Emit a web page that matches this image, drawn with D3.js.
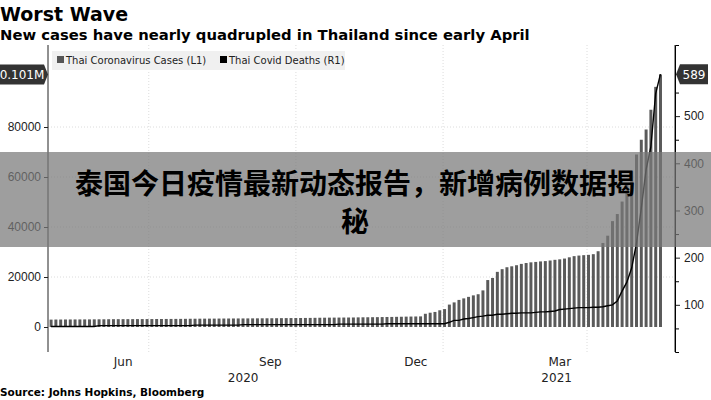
<!DOCTYPE html>
<html><head><meta charset="utf-8">
<script src="https://cdn.jsdelivr.net/npm/d3@7"></script>
<style>body{margin:0;background:#fff}svg{font-family:"DejaVu Sans",sans-serif}</style>
</head><body><svg id="c" width="711" height="400"></svg>
<script>
const startDate = "2020-04-30";
const stepDays = 3;
const cases = [2954,2987,2989,3009,3017,3025,3034,3040,3045,3065,3081,3084,3112,3125,3135,3141,3146,3156,3162,3169,3173,3180,3195,3202,3217,3227,3239,3250,3269,3298,3311,3328,3345,3351,3359,3378,3390,3402,3411,3423,3427,3445,3454,3470,3480,3490,3500,3519,3540,3559,3575,3590,3600,3620,3636,3669,3700,3720,3746,3759,3772,3787,3797,3810,3852,3880,3899,3920,3941,3977,4008,4027,4070,4100,4150,4180,4210,4246,
5289,5716,6020,6690,7163,8966,9841,10834,11450,12054,12653,13104,14646,18782,19618,22058,23134,23903,24279,24714,25241,25592,25865,26031,26234,26363,26598,26873,27071,27377,27873,28346,28577,28734,28863,29127,30310,33610,36522,42352,45185,50183,57508,62300,69000,74900,79000,86900,96050,101000];
const deaths = [54,54,54,54,54,54,54,54,54,54,56,56,56,56,56,56,56,56,56,56,56,56,56,56,56,56,56,56,56,56,57,57,57,57,57,57,57,57,57,57,58,58,58,58,58,58,58,58,58,58,58,58,58,58,58,58,58,58,58,58,59,59,59,59,59,59,59,59,59,59,60,60,60,60,60,60,60,60,
60,60,60,60,60,63,67,67,70,71,73,75,76,78,78,80,80,81,82,82,83,83,83,84,85,85,86,87,90,91,92,93,94,94,94,95,95,96,98,100,108,129,148,178,230,304,386,435,548,589];
const leftTicks = [0,20000,40000,60000,80000];
const rightTicks = [100,200,300,400,500];
const monthLabels = [["2020-06-15","Jun"],["2020-09-15","Sep"],["2020-12-15","Dec"],["2021-03-15","Mar"]];
const yearLabels = [["2020-08-29","2020"],["2021-03-13","2021"]];
const gridDates = ["2020-07-01","2020-10-01","2021-01-01","2021-04-01"];

const svg = d3.select("#c");
const L=48,R=675,T=45,B=352;
const d0 = new Date(startDate);
const dates = cases.map((_,i)=>d3.timeDay.offset(d0,i*stepDays));
const x = d3.scaleTime().domain([new Date("2020-04-29"),new Date("2021-05-26")]).range([L,R]);
const yL = d3.scaleLinear().domain([-10000,112800]).range([B,T]);
const yR = d3.scaleLinear().domain([0,650.8]).range([B,T]);
const g = "#dcdcdc";
svg.selectAll(".hg").data(leftTicks.slice(1)).join("line").attr("x1",L).attr("x2",R)
 .attr("y1",d=>yL(d)).attr("y2",d=>yL(d)).attr("stroke",g).attr("stroke-dasharray","1,2");
svg.selectAll(".vg").data(gridDates).join("line").attr("y1",T).attr("y2",B)
 .attr("x1",d=>x(new Date(d))).attr("x2",d=>x(new Date(d))).attr("stroke",g).attr("stroke-dasharray","1,2");
const bw = x(d3.timeDay.offset(d0,stepDays))-x(d0);
svg.selectAll(".b").data(cases).join("rect").attr("x",(d,i)=>x(dates[i])).attr("width",bw*0.62)
 .attr("y",d=>yL(d)).attr("height",d=>yL(0)-yL(d)).attr("fill","#5a5a5a");
svg.append("path").datum(deaths).attr("fill","none").attr("stroke","#000").attr("stroke-width",1.4)
 .attr("d",d3.line().x((d,i)=>x(dates[i])+bw*0.3).y(d=>yR(d)));
const la = svg.append("g").attr("transform",`translate(${L},0)`).call(d3.axisLeft(yL).tickValues(leftTicks).tickSize(4).tickPadding(3).tickFormat(d3.format("d")));
const ra = svg.append("g").attr("transform",`translate(${R},0)`).call(d3.axisRight(yR).tickValues(rightTicks).tickSize(5).tickPadding(4));
svg.append("g").attr("transform",`translate(${R},0)`).call(d3.axisRight(yR).tickValues([50,150,250,350,450,550]).tickSize(4).tickFormat(""));
[la,ra].forEach(a=>{a.select(".domain").attr("d",`M0,${T}V${B}`).attr("stroke","#222");
 a.selectAll("text").attr("font-size",12).attr("fill","#222");a.selectAll("line").attr("stroke","#222");});
svg.selectAll(".ml").data(monthLabels).join("text").attr("x",d=>x(new Date(d[0]))).attr("y",366)
 .attr("text-anchor","middle").attr("font-size",12).attr("fill","#222").text(d=>d[1]);
svg.selectAll(".yl").data(yearLabels).join("text").attr("x",d=>x(new Date(d[0]))).attr("y",382)
 .attr("text-anchor","middle").attr("font-size",12).attr("fill","#222").text(d=>d[1]);
function tag(xp,yp,w,txt,left){
 const pts = left?[[xp,yp-10],[xp+w,yp-10],[xp+w+4,yp],[xp+w,yp+10],[xp,yp+10]]:[[xp,yp],[xp+4,yp-10],[xp+4+w,yp-10],[xp+4+w,yp+10],[xp+4,yp+10]];
 svg.append("polygon").attr("points",pts.map(p=>p.join(",")).join(" ")).attr("fill","#333");
 svg.append("text").attr("x",left?xp+w/2:xp+4+w/2).attr("y",yp+4.5).attr("text-anchor","middle").attr("font-size",12).attr("fill","#fff").text(txt);
}
tag(0,yL(101000),44,"0.101M",true);
tag(R+1,yR(589),28,"589",false);
svg.append("rect").attr("x",52).attr("y",51).attr("width",293).attr("height",19).attr("fill","#f0f0f0");
svg.append("rect").attr("x",57).attr("y",56).attr("width",7).attr("height",7).attr("fill","#555");
svg.append("text").attr("x",66).attr("y",64).attr("font-size",10).attr("fill","#222").text("Thai Coronavirus Cases  (L1)");
svg.append("rect").attr("x",220).attr("y",56).attr("width",7).attr("height",7).attr("fill","#000");
svg.append("text").attr("x",229).attr("y",64).attr("font-size",10).attr("fill","#222").text("Thai Covid Deaths (R1)");
svg.append("text").attr("x",0).attr("y",21).attr("font-size",19).attr("font-weight","bold").attr("fill","#000").text("Worst Wave");
svg.append("text").attr("x",0).attr("y",40).attr("font-size",14.8).attr("font-weight","bold").attr("fill","#000").text("New cases have nearly quadrupled in Thailand since early April");
svg.append("text").attr("x",0).attr("y",396).attr("font-size",10.5).attr("font-weight","bold").attr("fill","#000").text("Source: Johns Hopkins, Bloomberg");
svg.append("rect").attr("x",0).attr("y",152).attr("width",711).attr("height",95).attr("fill","rgba(120,120,120,0.72)");
const ovs = ["泰国今日疫情最新动态报告，新增病例数据揭","秘"];
svg.selectAll(".ov").data(ovs).join("text").attr("x",355).attr("y",(d,i)=>194+i*38).attr("text-anchor","middle")
 .attr("font-family","'Noto Sans CJK SC',sans-serif").attr("font-size",28).attr("font-weight","bold").attr("fill","#000").text(d=>d);
</script></body></html>
